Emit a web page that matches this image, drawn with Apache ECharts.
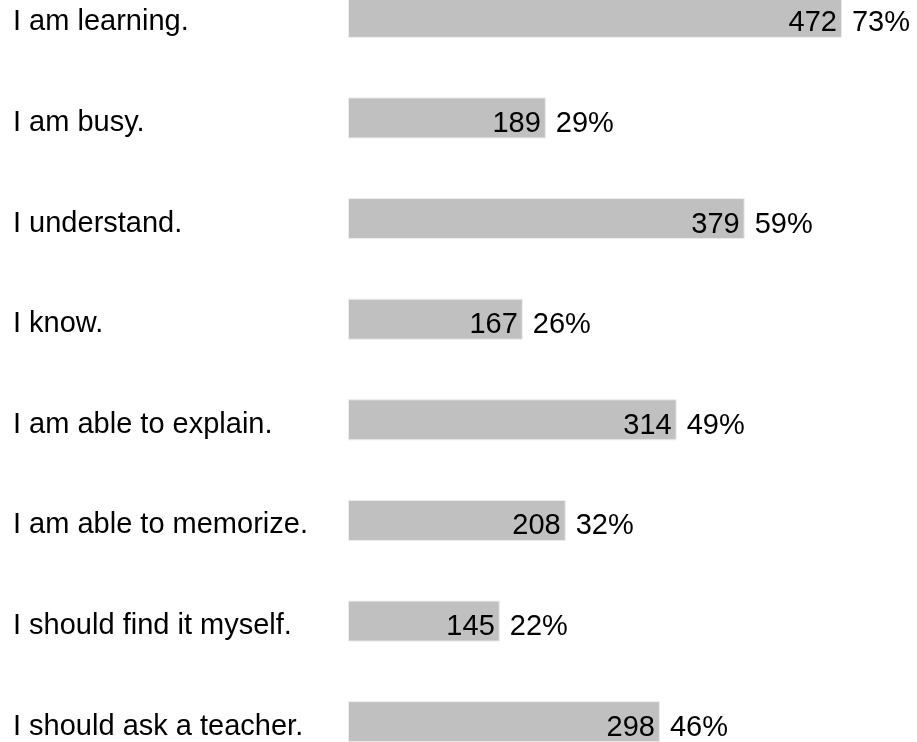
<!DOCTYPE html>
<html>
<head>
<meta charset="utf-8">
<script src="https://cdn.jsdelivr.net/npm/echarts@6/dist/echarts.min.js"></script>
<style>
html,body{margin:0;padding:0;background:#fff;overflow:hidden;width:917px;height:742px;}
#chart{position:absolute;left:0;top:-33.5px;width:917px;height:805px;}
</style>
</head>
<body>
<div id="chart"></div>
<script>
const categories = [
  "I am learning.",
  "I am busy.",
  "I understand.",
  "I know.",
  "I am able to explain.",
  "I am able to memorize.",
  "I should find it myself.",
  "I should ask a teacher."
];
const counts = [472, 189, 379, 167, 314, 208, 145, 298];
const percents = ["73%", "29%", "59%", "26%", "49%", "32%", "22%", "46%"];

const FONT = "'Liberation Sans', Arial, sans-serif";
const chart = echarts.init(document.getElementById('chart'), null, {renderer: 'canvas'});
chart.setOption({
  animation: false,
  backgroundColor: '#ffffff',
  grid: {left: 348, width: 523.3, top: 0, bottom: 0, containLabel: false},
  xAxis: {
    type: 'value', min: 0, max: 500,
    show: false
  },
  yAxis: {
    type: 'category', data: categories, inverse: true,
    axisLine: {show: false}, axisTick: {show: false}, splitLine: {show: false},
    axisLabel: {
      align: 'left', margin: 335,
      formatter: v => '{t|' + v + '}',
      rich: {
        t: {padding: [10, 0, 0, 0], color: '#000000', fontSize: 29, fontFamily: FONT}
      },
      color: '#000000', fontSize: 29, fontFamily: FONT
    }
  },
  series: [
    {
      type: 'bar', data: counts, barWidth: 41,
      itemStyle: {color: '#c0c0c0', borderColor: '#ececec', borderWidth: 1},
      label: {
        show: true, position: 'insideRight', distance: 5, offset: [0, 6],
        color: '#000000', fontSize: 29, fontFamily: FONT
      },
      silent: true
    },
    {
      type: 'bar', data: counts, barWidth: 41, barGap: '-100%',
      itemStyle: {color: 'rgba(0,0,0,0)'},
      label: {
        show: true, position: 'right', distance: 10, offset: [0, 6],
        color: '#000000', fontSize: 29, fontFamily: FONT,
        formatter: p => percents[p.dataIndex]
      },
      silent: true
    }
  ]
});
</script>
</body>
</html>
